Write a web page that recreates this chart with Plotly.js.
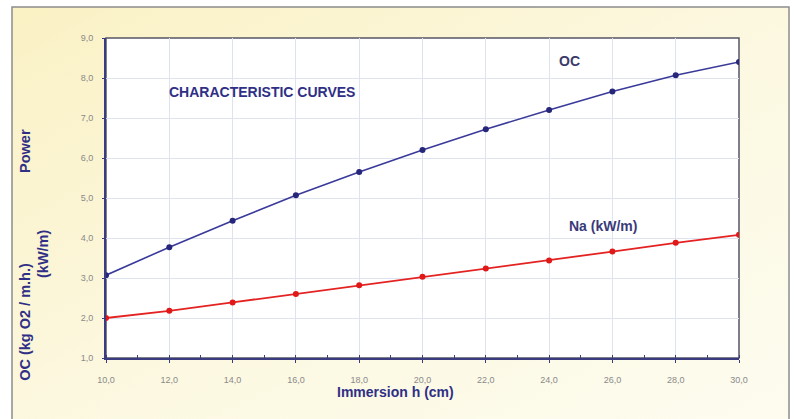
<!DOCTYPE html>
<html><head><meta charset="utf-8">
<script src="https://cdn.plot.ly/plotly-3.0.1.min.js"></script>
<style>html,body{margin:0;padding:0;background:#fff}#c{width:794px;height:419px}</style>
</head><body><div id="c"></div>
<script>
const immersion = [10, 12, 14, 16, 18, 20, 22, 24, 26, 28, 30];
const ocValues = [3.07, 3.77, 4.43, 5.07, 5.65, 6.2, 6.72, 7.2, 7.66, 8.07, 8.4];
const naValues = [2.0, 2.18, 2.39, 2.6, 2.82, 3.03, 3.24, 3.44, 3.66, 3.88, 4.08];
const xTicks = [10, 12, 14, 16, 18, 20, 22, 24, 26, 28, 30];
const yTicks = [1, 2, 3, 4, 5, 6, 7, 8, 9];

const navy = '#2f2f86';
const font = 'Liberation Sans, Arial, sans-serif';

const grad = 'data:image/svg+xml;utf8,' + encodeURIComponent(
  '<svg xmlns="http://www.w3.org/2000/svg" width="100" height="100" preserveAspectRatio="none">' +
  '<defs><linearGradient id="g" x1="0" y1="0" x2="1" y2="1">' +
  '<stop offset="0" stop-color="#faf1c4"/><stop offset="0.5" stop-color="#fcf8e0"/><stop offset="1" stop-color="#fdfcf0"/>' +
  '</linearGradient></defs><rect width="100" height="100" fill="url(#g)"/></svg>');

const traces = [
  {x: immersion, y: ocValues, mode: 'lines+markers', name: 'OC',
   line: {color: '#3a3a9a', width: 1.6}, marker: {color: '#26267a', size: 6}},
  {x: immersion, y: naValues, mode: 'lines+markers', name: 'Na (kW/m)',
   line: {color: '#e42222', width: 1.8}, marker: {color: '#e01818', size: 6}}
];

const layout = {
  width: 794, height: 419,
  margin: {l: 106, r: 55, t: 38, b: 61},
  paper_bgcolor: '#ffffff',
  plot_bgcolor: 'rgba(0,0,0,0)',
  separators: ',.',
  showlegend: false,
  font: {family: font},
  xaxis: {
    range: [10, 30], tickvals: xTicks, tickformat: '.1f',
    tickfont: {size: 9, color: '#8a8a8a'},
    ticklabelstandoff: 9,
    showgrid: true, gridcolor: '#dde3ef', gridwidth: 1,
    showline: true, linecolor: '#3b3b80', linewidth: 2, mirror: false,
    ticks: 'outside', ticklen: 3, tickcolor: '#3b3b80',
    minor: {dtick: 1, tick0: 11, ticks: 'inside', ticklen: 3, tickcolor: '#3b3b80', showgrid: false},
    zeroline: false, fixedrange: true
  },
  yaxis: {
    range: [1, 9], tickvals: yTicks, tickformat: '.1f',
    tickfont: {size: 9, color: '#8a8a8a'},
    ticklabelstandoff: 7,
    showgrid: true, gridcolor: '#dde3ef', gridwidth: 1,
    showline: true, linecolor: '#3b3b80', linewidth: 2,
    ticks: 'outside', ticklen: 2, tickcolor: '#3b3b80',
    zeroline: false, fixedrange: true
  },
  images: [
    {source: grad, xref: 'paper', yref: 'paper', x: -0.1485, y: 1.097, sizex: 1.2275, sizey: 1.347,
     xanchor: 'left', yanchor: 'top', sizing: 'stretch', layer: 'below'}
  ],
  shapes: [
    {type: 'rect', xref: 'paper', yref: 'paper', x0: -0.1485, x1: 1.079, y0: -0.25, y1: 1.097,
     fillcolor: 'rgba(0,0,0,0)', line: {color: '#8c8c8c', width: 1.5}, layer: 'below'},
    {type: 'rect', xref: 'paper', yref: 'paper', x0: 0, x1: 1, y0: 0, y1: 1,
     fillcolor: '#ffffff', line: {color: '#555566', width: 1.5}, layer: 'below'}
  ],
  annotations: [
    {x: 14.93, y: 7.65, xref: 'x', yref: 'y', text: 'CHARACTERISTIC CURVES', showarrow: false,
     xanchor: 'center', yanchor: 'middle',
     font: {size: 14, color: navy, family: font, weight: 'bold'}},
    {x: 24.63, y: 8.42, xref: 'x', yref: 'y', text: 'OC', showarrow: false,
     xanchor: 'center', yanchor: 'middle',
     font: {size: 14, color: '#3a3a6a', family: font, weight: 'bold'}},
    {x: 25.7, y: 4.3, xref: 'x', yref: 'y', text: 'Na (kW/m)', showarrow: false,
     xanchor: 'center', yanchor: 'middle',
     font: {size: 14, color: '#3a3a7a', family: font, weight: 'bold'}},
    {x: 0.458, y: -0.106, xref: 'paper', yref: 'paper', text: 'Immersion h (cm)', showarrow: false,
     xanchor: 'center', yanchor: 'middle',
     font: {size: 14, color: navy, family: font, weight: 'bold'}},
    {x: -0.128, y: 0.647, xref: 'paper', yref: 'paper', text: 'Power', showarrow: false, textangle: -90,
     xanchor: 'center', yanchor: 'middle',
     font: {size: 14.5, color: navy, family: font, weight: 'bold'}},
    {x: -0.128, y: 0.113, xref: 'paper', yref: 'paper', text: 'OC (kg O2 / m.h.)', showarrow: false, textangle: -90,
     xanchor: 'center', yanchor: 'middle',
     font: {size: 14.5, color: navy, family: font, weight: 'bold'}},
    {x: -0.0995, y: 0.325, xref: 'paper', yref: 'paper', text: '(kW/m)', showarrow: false, textangle: -90,
     xanchor: 'center', yanchor: 'middle',
     font: {size: 14.5, color: navy, family: font, weight: 'bold'}}
  ]
};

Plotly.newPlot('c', traces, layout, {staticPlot: true, displayModeBar: false});
</script>
</body></html>
